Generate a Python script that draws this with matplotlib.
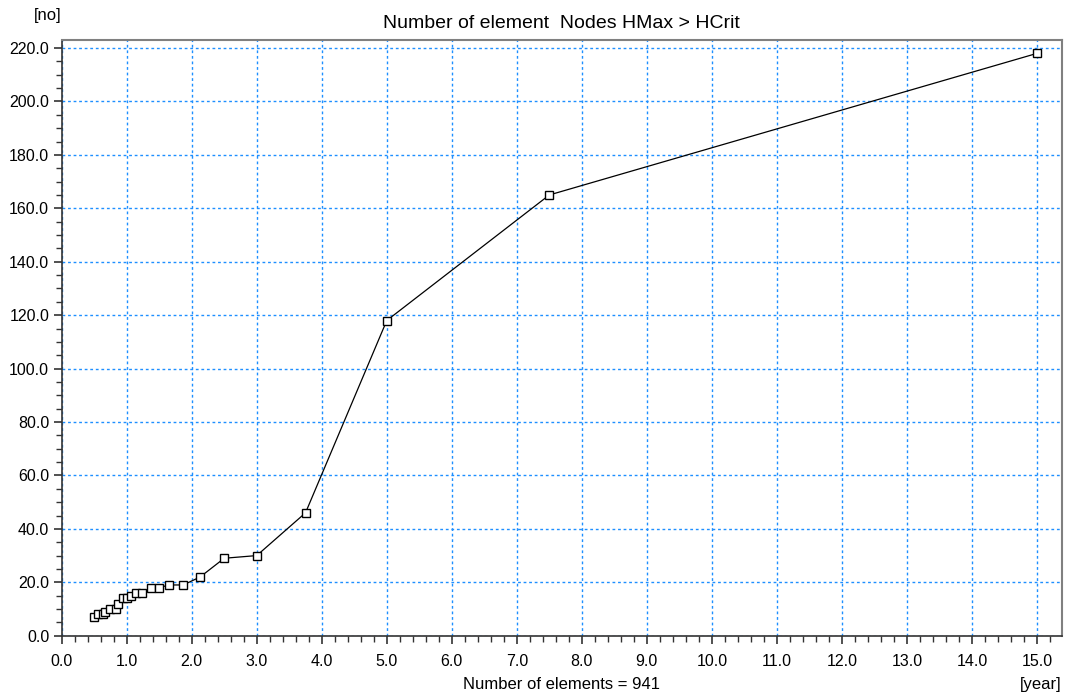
import numpy as np
import matplotlib
matplotlib.use("Agg")
import matplotlib.pyplot as plt
from matplotlib.ticker import MultipleLocator, FormatStrFormatter
from matplotlib import font_manager

# data
years = [0.50, 0.56, 0.63, 0.67, 0.75, 0.83, 0.87, 0.95, 1.0, 1.07, 1.15, 1.23,
         1.37, 1.50, 1.65, 1.87, 2.13, 2.50, 3.0, 3.75, 5.0, 7.5, 15.0]
nodes = [7, 8, 8, 9, 10, 10, 12, 14, 14, 15, 16, 16,
         18, 18, 19, 19, 22, 29, 30, 46, 118, 165, 218]
n_elements = 941

names = {f.name for f in font_manager.fontManager.ttflist}
fam = [f for f in ["Liberation Sans Narrow", "Liberation Sans", "DejaVu Sans"] if f in names]
plt.rcParams['font.family'] = fam

fig = plt.figure(figsize=(10.86, 6.95), dpi=100)
ax = fig.add_axes([0.0568, 0.0853, 0.9208, 0.8571])

ax.plot(years, nodes, color="black", lw=0.9, marker="s", markersize=5.5,
        markerfacecolor="white", markeredgecolor="black", markeredgewidth=1.0, zorder=3)

ax.set_xlim(0, 15.38)
ax.set_ylim(0, 223)
ax.xaxis.set_major_locator(MultipleLocator(1.0))
ax.xaxis.set_minor_locator(MultipleLocator(0.2))
ax.yaxis.set_major_locator(MultipleLocator(20))
ax.yaxis.set_minor_locator(MultipleLocator(5))
ax.xaxis.set_major_formatter(FormatStrFormatter("%.1f"))
ax.yaxis.set_major_formatter(FormatStrFormatter("%.1f"))
ax.tick_params(which="both", direction="out", labelsize=11.5, color="#333333")
ax.tick_params(which="major", length=6, width=1.2, pad=7)
ax.tick_params(which="minor", length=4, width=1.0)
ax.tick_params(axis="y", which="major", pad=3)

ax.grid(True, which="major", color="#1E8FFF", linestyle=(0, (2, 2)), linewidth=1.0)
ax.set_axisbelow(True)

for s in ["top", "right"]:
    ax.spines[s].set_color("#808080")
    ax.spines[s].set_linewidth(1.5)
for s in ["left", "bottom"]:
    ax.spines[s].set_color("#333333")
    ax.spines[s].set_linewidth(1.2)

ax.set_title("Number of element  Nodes HMax > HCrit", fontsize=14, pad=9)
fig.text(0.044, 0.978, "[no]", fontsize=12, ha="center", va="center")
fig.text(0.9776, 0.015, "[year]", fontsize=12, ha="right", va="center")
fig.text(0.517, 0.015, "Number of elements = %d" % n_elements, fontsize=12,
         ha="center", va="center")

fig.savefig("out.png", dpi=100)
